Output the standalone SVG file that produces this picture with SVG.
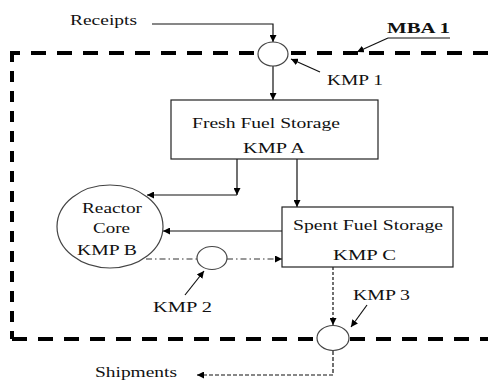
<svg xmlns="http://www.w3.org/2000/svg" width="488" height="381" viewBox="0 0 488 381">
  <defs>
    <style>
      text { font-family: "Liberation Serif", "DejaVu Serif", "Times New Roman", serif; font-size: 15px; fill: #111; }
      .bold { font-weight: bold; }
      .box { fill: #fff; stroke: #222; stroke-width: 1.2; }
      .kmp { fill: #fff; stroke: #444; stroke-width: 1.2; }
      .boundary { fill: none; stroke: #000; stroke-width: 4; }
      .conn { fill: none; stroke: #111; stroke-width: 1.2; }
      .dashdot { stroke-dasharray: 6 3 1.5 3; stroke: #333; }
      .dotted { stroke-dasharray: 3 2; }
      .dashed { stroke-dasharray: 4 2; }
    </style>
    <marker id="arrow" viewBox="0 0 10 10" refX="10" refY="5" markerWidth="7" markerHeight="7" markerUnits="userSpaceOnUse" orient="auto">
      <path d="M0,0 L10,5 L0,10 z" fill="#000"/>
    </marker>
  </defs>

  <rect width="488" height="381" fill="#fff"/>

  <!-- MBA boundary -->
  <g id="mba-boundary">
    <path class="boundary" d="M10,53 H488" stroke-dasharray="10 11 15 11 15 11 15 11 15 11 15 11 15 11 15 11 15 11 15 11 15 11 15 11 15 11 15 11 15 11 15 11 15 11 15 11 15 11 15 11"/>
    <path class="boundary" d="M12,51 V339" stroke-dasharray="11 9"/>
    <path class="boundary" d="M12,339 H488" stroke-dasharray="15 11"/>
  </g>

  <!-- connectors -->
  <g id="connectors">
    <path class="conn" d="M152,24 H273 V42" marker-end="url(#arrow)"/>
    <path class="conn" d="M273,66 V100" marker-end="url(#arrow)"/>
    <path class="conn" d="M237,159 V195" marker-end="url(#arrow)"/>
    <path class="conn" d="M237,195 H147" marker-end="url(#arrow)"/>
    <path class="conn" d="M297,159 V207" marker-end="url(#arrow)"/>
    <path class="conn" d="M282,231 H163" marker-end="url(#arrow)"/>
    <path class="conn dashdot" d="M146,259 H197"/>
    <path class="conn dashdot" d="M227,259 H282" marker-end="url(#arrow)"/>
    <path class="conn dotted" d="M333,267 V325" marker-end="url(#arrow)"/>
    <path class="conn dashed" d="M333,351 V375 H197" marker-end="url(#arrow)"/>
    <!-- label pointers -->
    <path class="conn" d="M320,72 L291,59" marker-end="url(#arrow)"/>
    <path class="conn" d="M388,38 L357,52" marker-end="url(#arrow)"/>
    <path class="conn" d="M185,295 L204,271" marker-end="url(#arrow)"/>
    <path class="conn" d="M367,305 L351,327" marker-end="url(#arrow)"/>
    <path class="conn" d="M388,38 H450"/>
  </g>

  <g id="receipts">
    <text x="70" y="25" font-family="Liberation Serif, DejaVu Serif, serif" textLength="67" lengthAdjust="spacingAndGlyphs">Receipts</text>
  </g>

  <g id="mba1-label">
    <text class="bold" x="387" y="33" font-family="Liberation Serif, DejaVu Serif, serif" textLength="63" lengthAdjust="spacingAndGlyphs">MBA 1</text>
  </g>

  <g id="kmp1">
    <ellipse class="kmp" cx="273" cy="54" rx="15" ry="12"/>
    <text x="327" y="85" font-family="Liberation Serif, DejaVu Serif, serif" textLength="56" lengthAdjust="spacingAndGlyphs">KMP 1</text>
  </g>

  <g id="fresh-fuel-storage">
    <rect class="box" x="171" y="100" width="207" height="59"/>
    <text x="192" y="128" font-family="Liberation Serif, DejaVu Serif, serif" textLength="148" lengthAdjust="spacingAndGlyphs">Fresh Fuel Storage</text>
    <text x="243" y="153" font-family="Liberation Serif, DejaVu Serif, serif" textLength="62" lengthAdjust="spacingAndGlyphs">KMP A</text>
  </g>

  <g id="reactor-core">
    <ellipse class="kmp" cx="110" cy="226.5" rx="53" ry="41.5"/>
    <text x="82" y="213" font-family="Liberation Serif, DejaVu Serif, serif" textLength="60" lengthAdjust="spacingAndGlyphs">Reactor</text>
    <text x="93" y="233" font-family="Liberation Serif, DejaVu Serif, serif" textLength="37" lengthAdjust="spacingAndGlyphs">Core</text>
    <text x="77" y="255" font-family="Liberation Serif, DejaVu Serif, serif" textLength="60" lengthAdjust="spacingAndGlyphs">KMP B</text>
  </g>

  <g id="spent-fuel-storage">
    <rect class="box" x="282" y="207" width="171" height="60"/>
    <text x="293" y="230" font-family="Liberation Serif, DejaVu Serif, serif" textLength="150" lengthAdjust="spacingAndGlyphs">Spent Fuel Storage</text>
    <text x="333" y="260" font-family="Liberation Serif, DejaVu Serif, serif" textLength="63" lengthAdjust="spacingAndGlyphs">KMP C</text>
  </g>

  <g id="kmp2">
    <ellipse class="kmp" cx="212" cy="258" rx="15" ry="11.5"/>
    <text x="153" y="312" font-family="Liberation Serif, DejaVu Serif, serif" textLength="59" lengthAdjust="spacingAndGlyphs">KMP 2</text>
  </g>

  <g id="kmp3">
    <ellipse class="kmp" cx="333" cy="338" rx="16" ry="12.5"/>
    <text x="353" y="300" font-family="Liberation Serif, DejaVu Serif, serif" textLength="57" lengthAdjust="spacingAndGlyphs">KMP 3</text>
  </g>

  <g id="shipments">
    <text x="95" y="377" font-family="Liberation Serif, DejaVu Serif, serif" textLength="82" lengthAdjust="spacingAndGlyphs">Shipments</text>
  </g>
</svg>
